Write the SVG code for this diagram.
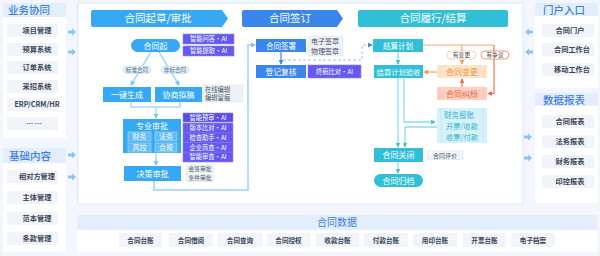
<svg xmlns="http://www.w3.org/2000/svg" width="600" height="256" viewBox="0 0 600 256">
<style>
text{font-family:"Noto Sans CJK SC","Noto Sans",sans-serif}
.hd{fill:#e3edfc}
.hdt{fill:#3b7fe6;font-size:10.5px;font-weight:500}
.pn{fill:#fff}
.it{fill:#f1f4f9}
.itt{fill:#3a4656;font-size:7.2px;font-weight:600;text-anchor:middle}
.dt{fill:#3a4656;font-size:6.6px;font-weight:600;text-anchor:middle}
.wt{fill:#fff;font-size:8px;text-anchor:middle}
.st{fill:#fff;font-size:7px;text-anchor:middle}
.ai{fill:#6559f0;stroke:#8f86f6;stroke-width:0.6}
.ait{fill:#fff;font-size:6.3px;text-anchor:middle}
.gb{fill:#eef2f7;stroke:#dfe6ef;stroke-width:0.6}
.gt{fill:#4a5566;font-size:6.3px}
.sa{fill:#37a8f3}
.sb{fill:#3b86ea}
.sc{fill:#30bfd6}
.ln{fill:none;stroke:#a9d8f7;stroke-width:1.5}
.lc{fill:none;stroke:#8fdbe9;stroke-width:1.3}
.arr{fill:#8fc3f5}
</style>
<defs>
<marker id="mb" viewBox="0 0 6 6" refX="5" refY="3" markerWidth="5" markerHeight="5" orient="auto" markerUnits="userSpaceOnUse"><path d="M0,0L6,3L0,6Z" fill="#7cc2f4"/></marker>
<marker id="md" viewBox="0 0 6 6" refX="5" refY="3" markerWidth="5" markerHeight="5" orient="auto" markerUnits="userSpaceOnUse"><path d="M0,0L6,3L0,6Z" fill="#3b86ea"/></marker>
<marker id="mc" viewBox="0 0 6 6" refX="5" refY="3" markerWidth="5" markerHeight="5" orient="auto" markerUnits="userSpaceOnUse"><path d="M0,0L6,3L0,6Z" fill="#45c3db"/></marker>
<marker id="mo" viewBox="0 0 6 6" refX="5" refY="3" markerWidth="5" markerHeight="5" orient="auto" markerUnits="userSpaceOnUse"><path d="M0,0L6,3L0,6Z" fill="#f39a5e"/></marker>
<marker id="mr" viewBox="0 0 6 6" refX="5" refY="3" markerWidth="5" markerHeight="5" orient="auto" markerUnits="userSpaceOnUse"><path d="M0,0L6,3L0,6Z" fill="#ee6b48"/></marker>
<path id="ar" d="M0,-1.5H4V-3.5L8,0L4,3.5V1.5H0Z"/>
</defs>
<rect width="600" height="256" fill="#f3f6fc"/>

<!-- left panel: 业务协同 -->
<g id="panel-yewu">
<rect class="pn" x="3" y="3" width="63" height="135"/>
<rect class="hd" x="3" y="3" width="63" height="14"/>
<text class="hdt" x="8" y="14">业务协同</text>
<rect class="it" x="7" y="24" width="51" height="13"/><text class="itt" x="37" y="33">项目管理</text>
<rect class="it" x="7" y="43" width="51" height="13"/><text class="itt" x="37" y="52">预算系统</text>
<rect class="it" x="7" y="61" width="51" height="13"/><text class="itt" x="37" y="70">订单系统</text>
<rect class="it" x="7" y="80" width="51" height="13"/><text class="itt" x="37" y="89">采招系统</text>
<rect class="it" x="7" y="98" width="51" height="13"/><text class="itt" x="37" y="107">ERP/CRM/HR</text>
<rect class="it" x="7" y="117" width="51" height="13"/><text class="itt" x="34" y="126">… …</text>
</g>

<!-- left panel: 基础内容 -->
<g id="panel-jichu">
<rect class="pn" x="3" y="148" width="63" height="104"/>
<rect class="hd" x="3" y="148" width="63" height="15"/>
<text class="hdt" x="9" y="159.5">基础内容</text>
<rect class="it" x="7" y="170" width="51" height="13"/><text class="itt" x="37" y="179">相对方管理</text>
<rect class="it" x="7" y="191" width="51" height="13"/><text class="itt" x="37" y="200">主体管理</text>
<rect class="it" x="7" y="212" width="51" height="13"/><text class="itt" x="37" y="221">范本管理</text>
<rect class="it" x="7" y="232" width="51" height="13"/><text class="itt" x="37" y="241">条款管理</text>
</g>

<!-- right panel: 门户入口 -->
<g id="panel-menhu">
<rect class="pn" x="535" y="3" width="63" height="85"/>
<rect class="hd" x="535" y="3" width="63" height="13"/>
<text class="hdt" x="543" y="13.5">门户入口</text>
<rect class="it" x="542" y="24" width="52" height="13"/><text class="itt" x="570" y="33">合同门户</text>
<rect class="it" x="542" y="43" width="52" height="13"/><text class="itt" x="572" y="52">合同工作台</text>
<rect class="it" x="542" y="63" width="52" height="13"/><text class="itt" x="572" y="72">移动工作台</text>
</g>

<!-- right panel: 数据报表 -->
<g id="panel-baobiao">
<rect class="pn" x="535" y="93" width="63" height="110"/>
<rect class="hd" x="535" y="93" width="63" height="13"/>
<text class="hdt" x="543" y="103.5">数据报表</text>
<rect class="it" x="542" y="115" width="52" height="13"/><text class="itt" x="570" y="124">合同报表</text>
<rect class="it" x="542" y="135" width="52" height="13"/><text class="itt" x="570" y="144">法务报表</text>
<rect class="it" x="542" y="155" width="52" height="13"/><text class="itt" x="570" y="164">财务报表</text>
<rect class="it" x="542" y="175" width="52" height="13"/><text class="itt" x="570" y="184">印控报表</text>
</g>

<!-- side arrows -->
<g id="side-arrows" class="arr">
<use href="#ar" x="68" y="32"/>
<use href="#ar" x="68" y="52"/>
<use href="#ar" x="68" y="155"/>
<use href="#ar" x="68" y="177"/>
<use href="#ar" transform="translate(533,32) scale(-1,1)"/>
<use href="#ar" transform="translate(533,52) scale(-1,1)"/>
<use href="#ar" x="524" y="137"/>
<use href="#ar" x="524" y="158"/>
</g>

<!-- central container -->
<rect x="78" y="3" width="445" height="201" fill="#fff" stroke="#dbe8f7" stroke-width="1"/>

<!-- bottom: 合同数据 -->
<g id="panel-shuju">
<rect class="hd" x="77" y="215" width="520" height="15"/>
<text x="337" y="226" fill="#3b7fe6" font-size="10" text-anchor="middle">合同数据</text>
<rect class="pn" x="77" y="230" width="520" height="22"/>
<rect class="it" x="119" y="233" width="43" height="14"/><text class="dt" x="140.5" y="242.5">合同台账</text>
<rect class="it" x="169" y="233" width="44" height="14"/><text class="dt" x="191" y="242.5">合同借阅</text>
<rect class="it" x="218" y="233" width="44" height="14"/><text class="dt" x="240" y="242.5">合同查询</text>
<rect class="it" x="267" y="233" width="43" height="14"/><text class="dt" x="288.5" y="242.5">合同授权</text>
<rect class="it" x="316" y="233" width="43" height="14"/><text class="dt" x="337.5" y="242.5">收款台账</text>
<rect class="it" x="364" y="233" width="44" height="14"/><text class="dt" x="386" y="242.5">付款台账</text>
<rect class="it" x="413" y="233" width="44" height="14"/><text class="dt" x="435" y="242.5">用印台账</text>
<rect class="it" x="463" y="233" width="43" height="14"/><text class="dt" x="484.5" y="242.5">开票台账</text>
<rect class="it" x="511" y="233" width="44" height="14"/><text class="dt" x="533" y="242.5">电子档案</text>
</g>

<!-- stage headers -->
<g id="stage-1"><path class="sa" d="M93,10H222L228,18.5L222,27H93Q91,27 91,25V12Q91,10 93,10Z"/><text x="158" y="22.3" fill="#fff" font-size="10.5" text-anchor="middle">合同起草/审批</text></g>
<g id="stage-2"><path class="sb" d="M244,10H337L343,18.5L337,27H244Q242,27 242,25V12Q242,10 244,10Z"/><text x="290" y="22.3" fill="#fff" font-size="10.5" text-anchor="middle">合同签订</text></g>
<g id="stage-3"><rect class="sc" x="358" y="10" width="150" height="17" rx="2"/><text x="433" y="22.3" fill="#fff" font-size="10.5" text-anchor="middle">合同履行/结算</text></g>

<!-- connectors -->
<g id="connectors">
<path class="ln" d="M151,52L131,85" marker-end="url(#mb)"/>
<path class="ln" d="M159,52L179,85" marker-end="url(#mb)"/>
<path class="ln" d="M131,102V107H180V102"/>
<path class="ln" d="M156,107V118" marker-end="url(#mb)"/>
<path class="ln" d="M156,153V165" marker-end="url(#mb)"/>
<path fill="none" stroke="#b3dcf8" stroke-width="2" d="M154,181V190H248V45H255" marker-end="url(#mb)"/>
<path fill="none" stroke="#3b86ea" stroke-width="1.2" d="M281,52V64" marker-end="url(#md)"/>
<path fill="none" stroke="#9cc6f2" stroke-width="1" stroke-dasharray="3,2" d="M283,60H362V45H372" marker-end="url(#md)"/>
<path class="lc" d="M398,52V64" marker-end="url(#mc)"/>
<path class="lc" d="M398,78V147" marker-end="url(#mc)"/>
<path class="lc" d="M404,78V122H435" marker-end="url(#mc)"/>
<path class="lc" d="M437,127H405V147" marker-end="url(#mc)"/>
<path class="lc" d="M398,162V173" marker-end="url(#mc)"/>
<path fill="none" stroke="#f5a56c" stroke-width="1.2" d="M423,45H494"/>
<path fill="none" stroke="#f5a56c" stroke-width="1.2" d="M462,45V64" marker-end="url(#mo)"/>
<path fill="none" stroke="#ef7a55" stroke-width="1.2" d="M494,45V93.5H488" marker-end="url(#mr)"/>
<path fill="none" stroke="#ef6b48" stroke-width="1.2" d="M462,87V79" marker-end="url(#mr)"/>
<path fill="none" stroke="#f5a56c" stroke-width="1.2" d="M437,72H424" marker-end="url(#mo)"/>
<rect x="123" y="66" width="28" height="7.5" rx="3.7" fill="#e1f0fd" stroke="#b7dbf7" stroke-width="0.5"/>
<text x="137" y="72" fill="#5a6678" font-size="5.6" text-anchor="middle">标准合同</text>
<rect x="161" y="66" width="28" height="7.5" rx="3.7" fill="#e1f0fd" stroke="#b7dbf7" stroke-width="0.5"/>
<text x="175" y="72" fill="#5a6678" font-size="5.6" text-anchor="middle">非标合同</text>
<rect x="447" y="51" width="29" height="8" rx="4" fill="#fff" stroke="#f6c79f" stroke-width="0.8"/>
<text x="461.5" y="57.3" fill="#4a4a4a" font-size="5.8" text-anchor="middle">有变更</text>
<rect x="481" y="51" width="28" height="8" rx="4" fill="#fff" stroke="#ef7a55" stroke-width="0.8"/>
<text x="495" y="57.3" fill="#4a4a4a" font-size="5.8" text-anchor="middle">有争议</text>
</g>

<!-- section 1 nodes -->
<g id="n-hetongqi"><rect class="sa" x="131" y="39" width="49" height="13" rx="6.5"/><text class="wt" x="155.5" y="48.5">合同起</text></g>
<g id="n-ai-wenda"><rect class="ai" x="183" y="34" width="51" height="10"/><text class="ait" x="208.5" y="41.3">智能问答・AI</text></g>
<g id="n-ai-tiqu"><rect class="ai" x="183" y="46" width="51" height="10"/><text class="ait" x="208.5" y="53.3">智能提取・AI</text></g>
<g id="n-yijian"><rect class="sa" x="103" y="87" width="48" height="15"/><text class="wt" x="127" y="97.7">一键生成</text></g>
<g id="n-xieshang"><rect class="sa" x="155" y="87" width="47" height="15"/><text class="wt" x="178.5" y="97.7">协商拟稿</text></g>
<g id="n-zaixian"><rect class="gb" x="203" y="85" width="40" height="17"/><text class="gt" x="205" y="92">在线编辑</text><text class="gt" x="205" y="100">编辑留痕</text></g>
<g id="n-zhuanye">
<rect class="sa" x="123" y="119" width="58" height="34"/>
<text class="wt" x="152" y="129">专业审批</text>
<rect x="128" y="132" width="23" height="9" fill="#64bcf6" stroke="#b5defa" stroke-width="0.6"/><text class="st" x="139.5" y="139">财务</text>
<rect x="155" y="132" width="22" height="9" fill="#64bcf6" stroke="#b5defa" stroke-width="0.6"/><text class="st" x="166" y="139">法务</text>
<rect x="128" y="143" width="23" height="9" fill="#64bcf6" stroke="#b5defa" stroke-width="0.6"/><text class="st" x="139.5" y="150">风控</text>
<rect x="155" y="143" width="22" height="9" fill="#64bcf6" stroke="#b5defa" stroke-width="0.6"/><text class="st" x="166" y="150">合规</text>
</g>
<g id="n-ai-shen">
<rect class="ai" x="183" y="113" width="50" height="9" style="fill:#5a4ce6"/><text class="ait" x="208" y="119.8">智能预审・AI</text>
<rect class="ai" x="183" y="123" width="50" height="39"/>
<line x1="183" y1="132.7" x2="233" y2="132.7" stroke="#8f86f6" stroke-width="0.5"/>
<line x1="183" y1="142.5" x2="233" y2="142.5" stroke="#8f86f6" stroke-width="0.5"/>
<line x1="183" y1="152.2" x2="233" y2="152.2" stroke="#8f86f6" stroke-width="0.5"/>
<text class="ait" x="208" y="130">版本比对・AI</text>
<text class="ait" x="208" y="139.8">检查助手・AI</text>
<text class="ait" x="208" y="149.6">企业商查・AI</text>
<text class="ait" x="208" y="159.4">智能审查・AI</text>
</g>
<g id="n-juece"><rect class="sa" x="124" y="166" width="57" height="15"/><text class="wt" x="152.5" y="176.7">决策审批</text></g>
<g id="n-huiqian"><rect class="gb" x="186" y="165" width="28" height="7.5"/><text class="gt" x="200" y="171" style="font-size:5.8px;text-anchor:middle">会签审批</text></g>
<g id="n-tiaojian"><rect class="gb" x="186" y="174" width="28" height="7.5"/><text class="gt" x="200" y="180" style="font-size:5.8px;text-anchor:middle">条件审批</text></g>

<!-- section 2 nodes -->
<g id="n-qianshu"><rect class="sb" x="256" y="39" width="50" height="13"/><text class="wt" x="281" y="48.5" style="font-size:7.5px">合同签署</text></g>
<g id="n-qianzhang"><rect class="gb" x="308" y="36" width="35" height="20"/><text class="gt" x="311" y="44" style="font-size:7px">电子签章</text><text class="gt" x="311" y="53.5" style="font-size:7px">物理签章</text></g>
<g id="n-dengji"><rect class="sb" x="256" y="65" width="50" height="13"/><text class="wt" x="281" y="74.5" style="font-size:7.8px">登记复核</text></g>
<g id="n-ai-zhonggao"><rect class="ai" x="308" y="65" width="53" height="13"/><text class="ait" x="334.5" y="73.7">终稿比对・AI</text></g>

<!-- section 3 nodes -->
<g id="n-jiesuan"><rect class="sc" x="373" y="39" width="50" height="13"/><text class="wt" x="398" y="48.5" style="font-size:7.5px">结算计划</text></g>
<g id="n-yanshou"><rect class="sc" x="374" y="65" width="49" height="13"/><text class="wt" x="398.5" y="74.5" style="font-size:7.3px">结算计划验收</text></g>
<g id="n-biangeng"><rect x="437" y="65" width="50" height="13" fill="#fde4cb"/><line x1="440" y1="65" x2="440" y2="78" stroke="#fbd3ae" stroke-width="0.8"/><line x1="484" y1="65" x2="484" y2="78" stroke="#fbd3ae" stroke-width="0.8"/><text x="462" y="74.5" fill="#f29440" font-size="8" text-anchor="middle">合同变更</text></g>
<g id="n-jiufen"><rect x="437" y="87" width="50" height="13" fill="#fcd0c0"/><line x1="440" y1="87" x2="440" y2="100" stroke="#f8bba6" stroke-width="0.8"/><line x1="484" y1="87" x2="484" y2="100" stroke="#f8bba6" stroke-width="0.8"/><text x="462" y="96.5" fill="#e8643c" font-size="8" text-anchor="middle">合同纠纷</text></g>
<g id="n-caiwu"><rect x="437" y="108" width="50" height="35" fill="#d7f1f8"/><line x1="441" y1="108" x2="441" y2="143" stroke="#bfe8f2" stroke-width="0.8"/><line x1="483" y1="108" x2="483" y2="143" stroke="#bfe8f2" stroke-width="0.8"/><text x="444" y="117.5" fill="#30b4d3" font-size="7.5">财务报账</text><text x="446" y="129" fill="#30b4d3" font-size="7.3">开票/收款</text><text x="446" y="139.5" fill="#30b4d3" font-size="7.3">收票/付款</text></g>
<g id="n-guanbi"><rect class="sc" x="374" y="148" width="49" height="14"/><text class="wt" x="398.5" y="158">合同关闭</text></g>
<g id="n-pingjia"><rect x="427" y="151" width="36" height="8.5" fill="#f1f5fb" stroke="#d6e3f3" stroke-width="0.6"/><text class="gt" x="445" y="157.6" style="font-size:6px;text-anchor:middle">合同评价</text></g>
<g id="n-guidang"><rect class="sc" x="374" y="174" width="49" height="13" rx="6.5"/><text class="wt" x="398.5" y="183.5">合同归档</text></g>
</svg>
